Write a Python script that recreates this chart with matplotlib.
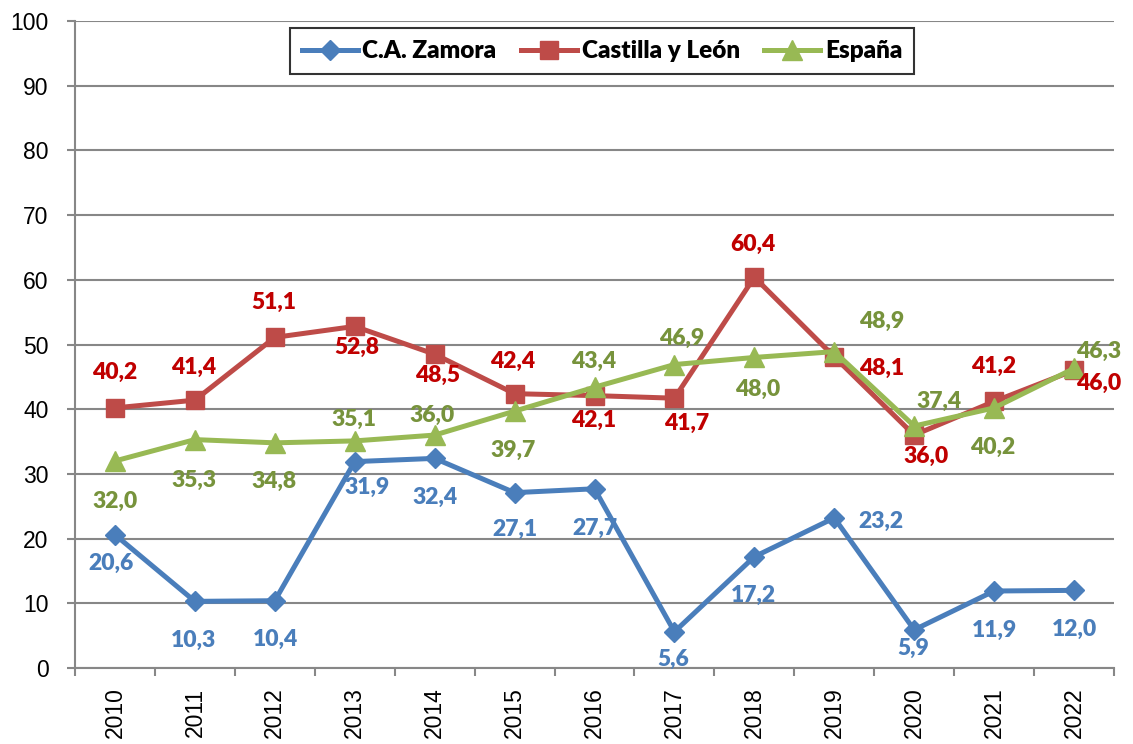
import matplotlib
matplotlib.use("Agg")
import matplotlib.pyplot as plt
import numpy as np

years = ["2010", "2011", "2012", "2013", "2014", "2015", "2016", "2017", "2018", "2019", "2020", "2021", "2022"]
zamora = [20.6, 10.3, 10.4, 31.9, 32.4, 27.1, 27.7, 5.6, 17.2, 23.2, 5.9, 11.9, 12.0]
cyl = [40.2, 41.4, 51.1, 52.8, 48.5, 42.4, 42.1, 41.7, 60.4, 48.1, 36.0, 41.2, 46.0]
espana = [32.0, 35.3, 34.8, 35.1, 36.0, 39.7, 43.4, 46.9, 48.0, 48.9, 37.4, 40.2, 46.3]
series_names = ["C.A. Zamora", "Castilla y León", "España"]

# label offsets in pixels (dx, dy), positive dy = above the point
off_z = [(-4, -29), (-1, -39), (1, -39), (12, -26), (0, -39), (0, -37), (0, -40),
         (-1, -28), (-1, -39), (47, -4), (-1, -19), (0, -39), (0, -39)]
off_c = [(0, 35), (-1, 33), (-1, 35), (2, -21), (3, -21), (-2, 32), (-1, -25),
         (12, -25), (-1, 33), (47, -12), (12, -21), (-1, 35), (25, -13)]
off_e = [(0, -40), (-1, -41), (-1, -39), (-1, 21), (-3, 20), (-1, -39), (-1, 26),
         (7, 26), (3, -32), (47, 30), (25, 25), (-1, -40), (25, 17)]

W, H = 1133, 744
fig = plt.figure(figsize=(W / 100, H / 100), dpi=100)
left, right, top, bottom = 75, 1114, 21, 668
ax = fig.add_axes([left / W, 1 - bottom / H, (right - left) / W, (bottom - top) / H])

x = np.arange(len(years))
c_z, c_c, c_e = "#4A7EBB", "#BE4B48", "#98B954"
t_z, t_c, t_e = "#4A7EBB", "#C00000", "#77933C"
gray = "#878787"

ax.plot(x, zamora, color=c_z, lw=3.6, marker="D", ms=10, mew=1, label=series_names[0], zorder=3)
ax.plot(x, cyl, color=c_c, lw=3.6, marker="s", ms=13, mew=1, label=series_names[1], zorder=4)
ax.plot(x, espana, color=c_e, lw=3.6, marker="^", ms=14, mew=1, label=series_names[2], zorder=5)

lab_font = dict(family="Lato", fontsize=16.5, fontweight="heavy")
for vals, offs, col in [(zamora, off_z, t_z), (cyl, off_c, t_c), (espana, off_e, t_e)]:
    for i, (v, o) in enumerate(zip(vals, offs)):
        ax.annotate(f"{v:.1f}".replace(".", ","), (x[i], v), xytext=o, textcoords="offset pixels",
                    ha="center", va="center", color=col, zorder=6, **lab_font)

ax.set_xlim(-0.5, len(years) - 0.5)
ax.set_ylim(0, 100)
ax.set_yticks(range(0, 101, 10))
ax.yaxis.grid(True, color=gray, lw=1.5)
ax.set_axisbelow(True)
ax.set_xticks(x)
ax.set_xticklabels(years, rotation=90, fontsize=16.5, family="Liberation Sans", va="top")
ax.tick_params(axis="x", which="major", length=0, pad=14)
ax.set_xticks(np.arange(-0.5, len(years), 1), minor=True)
ax.tick_params(axis="x", which="minor", length=6, color=gray, width=1.5)
ax.tick_params(axis="y", labelsize=16.5, length=6, color=gray, width=1.5, pad=13)
for lab in ax.get_yticklabels():
    lab.set_family("Liberation Sans")
for s in ["top", "right"]:
    ax.spines[s].set_visible(False)
for s in ["left", "bottom"]:
    ax.spines[s].set_color(gray)
    ax.spines[s].set_linewidth(1.5)

leg = fig.legend(loc="upper center", bbox_to_anchor=(602 / W, 1 - 28 / H), ncol=3,
                 prop=dict(family="Lato", weight="heavy", size=17.5), frameon=True, fancybox=False,
                 edgecolor="black", handlelength=2.3, columnspacing=1.0, handletextpad=0.2,
                 borderpad=0.5, borderaxespad=0)
leg.get_frame().set_linewidth(1.5)

fig.savefig("out.png", dpi=100, facecolor="white")
